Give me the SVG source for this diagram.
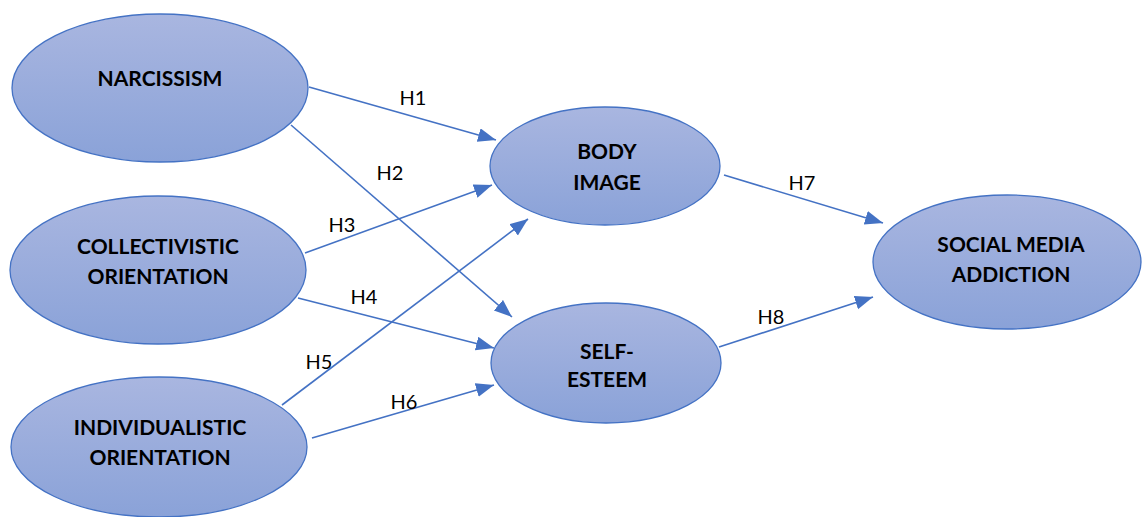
<svg xmlns="http://www.w3.org/2000/svg" width="1143" height="517" viewBox="0 0 1143 517">
<style>
.node ellipse{fill:url(#g);stroke:#4472C4;stroke-width:1.3}
.node text{font-family:Lato,"Liberation Sans",sans-serif;font-weight:bold;font-size:21px;fill:#000;text-anchor:middle}
.conn line{stroke:#4472C4;stroke-width:1.6;marker-end:url(#a)}
.lbl{font-family:Lato,"Liberation Sans",sans-serif;font-size:20px;fill:#000;text-anchor:middle}
</style>
<defs>
<linearGradient id="g" x1="0" y1="0" x2="0" y2="1">
<stop offset="0" stop-color="#A9B6E0"/>
<stop offset="1" stop-color="#8AA2D8"/>
</linearGradient>
<marker id="a" markerUnits="userSpaceOnUse" markerWidth="20" markerHeight="16" refX="18" refY="7" orient="auto">
<path d="M0,0 L18,7 L0,14 z" fill="#4472C4"/>
</marker>
</defs>
<rect width="1143" height="517" fill="#fff"/>
<g id="connectors" class="conn">
<line x1="309" y1="87" x2="496" y2="140"/>
<line x1="291" y1="125" x2="512" y2="317"/>
<line x1="305" y1="253" x2="492" y2="185"/>
<line x1="298" y1="298" x2="494" y2="348"/>
<line x1="282" y1="405" x2="528" y2="219"/>
<line x1="312" y1="438" x2="494" y2="385"/>
<line x1="724" y1="175" x2="883" y2="223"/>
<line x1="719" y1="347" x2="873" y2="297"/>
</g>
<g id="labels">
<text class="lbl" x="413" y="105">H1</text>
<text class="lbl" x="390" y="180">H2</text>
<text class="lbl" x="342" y="232">H3</text>
<text class="lbl" x="364" y="304">H4</text>
<text class="lbl" x="319" y="369">H5</text>
<text class="lbl" x="404" y="409">H6</text>
<text class="lbl" x="802" y="190">H7</text>
<text class="lbl" x="771" y="324">H8</text>
</g>
<g id="narcissism" class="node">
<ellipse cx="160" cy="88" rx="148" ry="74"/>
<text x="160" y="86">NARCISSISM</text>
</g>
<g id="collectivistic" class="node">
<ellipse cx="158" cy="270" rx="148" ry="74"/>
<text x="158" y="254">COLLECTIVISTIC</text>
<text x="158" y="284">ORIENTATION</text>
</g>
<g id="individualistic" class="node">
<ellipse cx="159" cy="447" rx="148" ry="70"/>
<text x="160" y="435">INDIVIDUALISTIC</text>
<text x="160" y="465">ORIENTATION</text>
</g>
<g id="body-image" class="node">
<ellipse cx="605" cy="166" rx="115" ry="59"/>
<text x="607" y="159">BODY</text>
<text x="607" y="190">IMAGE</text>
</g>
<g id="self-esteem" class="node">
<ellipse cx="606" cy="363" rx="115" ry="60"/>
<text x="607" y="359">SELF-</text>
<text x="607" y="387">ESTEEM</text>
</g>
<g id="social-media-addiction" class="node">
<ellipse cx="1007" cy="262" rx="134" ry="67"/>
<text x="1011" y="252">SOCIAL MEDIA</text>
<text x="1011" y="282">ADDICTION</text>
</g>
</svg>
